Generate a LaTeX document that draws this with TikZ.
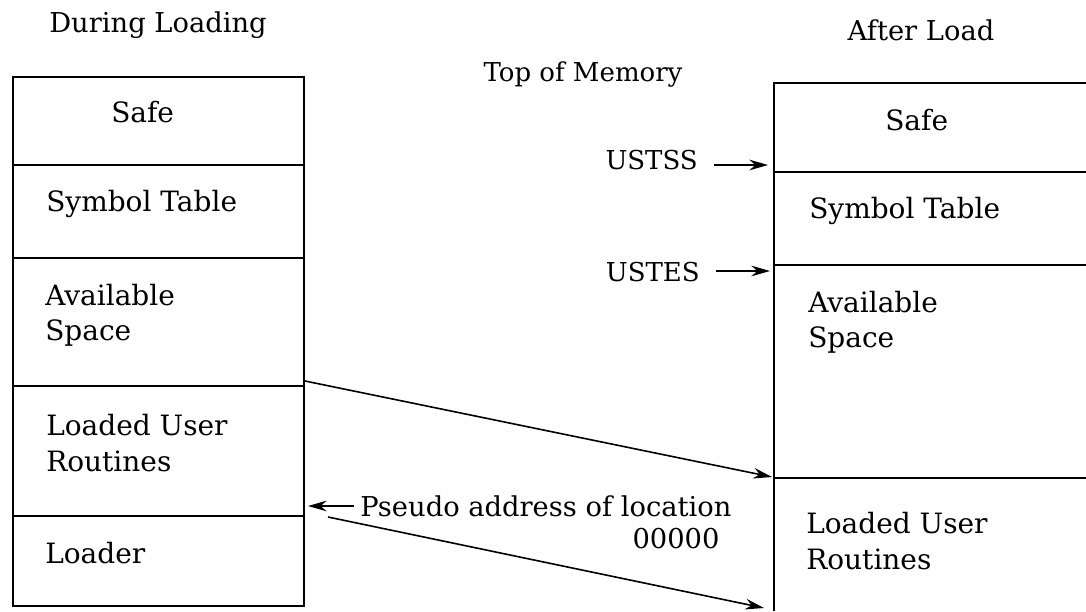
\documentclass[tikz,border=0pt]{standalone}
\usepackage{fontspec}
\setmainfont{DejaVu Serif}
\usetikzlibrary{fit,arrows.meta}

\tikzset{
  sec/.style={draw, line width=1.3pt, inner sep=0pt},
  lbl/.style={anchor=west, align=left, inner sep=0pt, font=\fontsize{21}{26.5}\selectfont},
  ttl/.style={inner sep=0pt, font=\fontsize{20.5}{24}\selectfont},
  ptr/.style={line width=1.2pt, -{Stealth[length=14pt,width=8pt]}}
}

\begin{document}
\begin{tikzpicture}[x=0.75pt, y=-0.75pt]
                    \useasboundingbox (0,0) rectangle (1086,611);

                    % Titles
                    \node[ttl] (during) at (158,25) {During Loading};
                    \node[ttl] (after) at (921,30) {After Load};
                    \node[ttl, font=\fontsize{19.5}{24}\selectfont] (top) at (583,75) {Top of Memory};

                    % Left column: during loading
                    \node[sec, fit={(13,77) (304,165)}] (lsafe) {};
                    \node[sec, fit={(13,165) (304,258)}] (lsym) {};
                    \node[sec, fit={(13,258) (304,386)}] (lavail) {};
                    \node[sec, fit={(13,386) (304,516)}] (luser) {};
                    \node[sec, fit={(13,516) (304,606)}] (lload) {};

                    \node[lbl] (lsafet) at (111,112) {Safe};
                    \node[lbl] (lsymt) at (46,204) {Symbol Table};
                    \node[lbl] (lavailt) at (45,315) {Available\\Space};
                    \node[lbl] (lusert) at (46,443) {Loaded User\\Routines};
                    \node[lbl] (lloadt) at (45,553) {Loader};

                    % Right column: after load
                    \coordinate (r0) at (774,83);
                    \coordinate (r1) at (774,172);
                    \coordinate (r2) at (774,265);
                    \coordinate (r3) at (774,478);
                    \coordinate (rb) at (774,611);
                    \draw[line width=1.3pt] (1086,83) -- (r0) -- (rb);
                    \foreach \c in {r1,r2,r3}
                        \draw[line width=1.3pt] (\c) -- ++(312,0);

                    \node[lbl] (rsafet) at (885,120) {Safe};
                    \node[lbl] (rsymt) at (809,211) {Symbol Table};
                    \node[lbl] (ravailt) at (808,322) {Available\\Space};
                    \node[lbl] (rusert) at (806,541) {Loaded User\\Routines};

                    % Pointers
                    \node[ttl, anchor=east, font=\fontsize{19.5}{24}\selectfont] (ustss) at (698,160) {USTSS};
                    \node[ttl, anchor=east, font=\fontsize{19.5}{24}\selectfont] (ustes) at (700,272) {USTES};
                    \coordinate (ustssend) at (768,165);
                    \coordinate (ustesend) at (770,271);
                    \draw[ptr] (ustss.east) ++(16,5) -- (ustssend);
                    \draw[ptr] (ustes.east) ++(16,-1) -- (ustesend);

                    \node[ttl, anchor=west, align=right] (pseudo) at (360,522)
                        {Pseudo address of location\\00000\hspace*{9pt}};
                    \coordinate (pstart) at (354,506);
                    \coordinate (pend) at (308,506);
                    \draw[ptr] (pstart) -- (pend);

                    % Edges
                    \coordinate (a1) at (305,381);
                    \coordinate (b1) at (772,477);
                    \coordinate (a2) at (328,517);
                    \coordinate (b2) at (764,608);
                    \draw[ptr] (a1) -- (b1);
                    \draw[ptr] (a2) -- (b2);

                \end{tikzpicture}
\end{document}
